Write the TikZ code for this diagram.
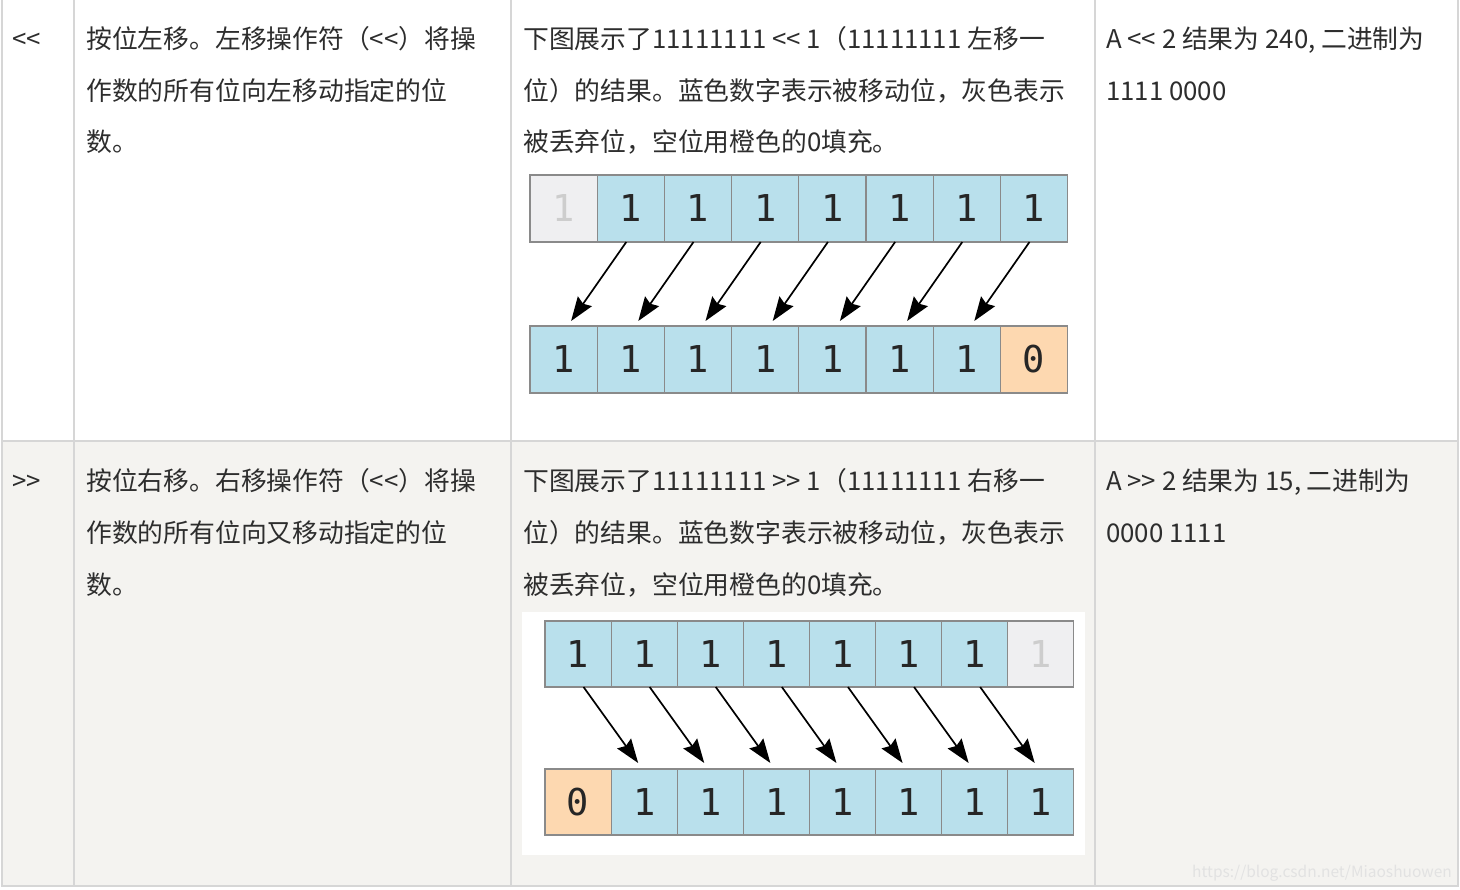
\documentclass[tikz,border=0pt]{standalone}
\usepackage{fontspec}
\setmainfont{Noto Sans CJK SC}[Ligatures=TeXOff]
\newfontfamily\bitfont{DejaVu Sans Mono}
\usetikzlibrary{positioning, calc, arrows.meta}
\definecolor{gridline}{RGB}{214,214,214}
\definecolor{rowshade}{RGB}{244,243,240}
\definecolor{ink}{RGB}{45,45,45}
\definecolor{bitblue}{RGB}{185,224,236}
\definecolor{bitorange}{RGB}{253,216,176}
\definecolor{lostgray}{RGB}{239,239,241}
\definecolor{lostink}{RGB}{205,205,205}
\definecolor{cellborder}{RGB}{138,138,138}
\tikzset{x=1pt, y=1pt, % one unit is one pixel of the table
bit/.style={ % one box of the byte
draw=cellborder, line width=1.2pt,
minimum width=67.2pt, minimum height=67pt,
inner sep=0pt, outer sep=0pt,
font=\bitfont\fontsize{37}{37}\selectfont, text=black!85},
kept/.style={bit, fill=bitblue},
lost/.style={bit, fill=lostgray, text=lostink},
pad/.style={bit, fill=bitorange},
txt/.style={anchor=base west, inner sep=0pt, text=ink,
font=\fontsize{25.8}{30}\selectfont},
bitarrow/.style={-{Stealth[length=24pt,width=17pt,inset=3pt]}, line width=1.7pt}}

\begin{document}
\begin{tikzpicture}
    \useasboundingbox (0,0) rectangle (1460,-890);

    % table
    \fill[rowshade] (2,-441) rectangle (1458,-886);
    \draw[gridline, line width=2pt] (2,-441) -- (1458,-441) (2,-886) -- (1458,-886);
    \foreach \x in {2,74,511,1095,1458}
        \draw[gridline, line width=2pt] (\x,0) -- (\x,-887);

    % row <<
    \node[txt] (op1) at (12,-49) {<<};
    \foreach \t [count=\k] in {按位左移。左移操作符（<<）将操, 作数的所有位向左移动指定的位, 数。}
        \node[txt] (desc1\k) at (86,{-49-51.5*(\k-1)}) {\t};
    \foreach \t [count=\k] in {下图展示了11111111 << 1（11111111 左移一, 位）的结果。蓝色数字表示被移动位，灰色表示, 被丢弃位，空位用橙色的0填充。}
        \node[txt] (pic1\k) at (523,{-49-51.5*(\k-1)}) {\t};
    \foreach \t [count=\k] in {{A << 2 结果为 240, 二进制为}, 1111 0000}
        \node[txt] (ex1\k) at (1106,{-49-51.5*(\k-1)}) {\t};

    \node[lost, anchor=north west] (a0) at (530,-175) {1};
    \foreach \i [count=\j from 0] in {1,...,7}
        \node[kept, right=0pt of a\j] (a\i) {1};
    \node[kept, anchor=north west] (b0) at (530,-326) {1};
    \foreach \i [count=\j from 0] in {1,...,6}
        \node[kept, right=0pt of b\j] (b\i) {1};
    \node[pad, right=0pt of b6] (b7) {0};
    \foreach \i [count=\j from 0] in {1,...,7}
        \draw[bitarrow] ($(a\i.south)+(-4.5,0)$) -- ($(b\j.north)+(7.5,5)$);

    % row >>
    \node[txt] (op2) at (12,-491) {>>};
    \foreach \t [count=\k] in {按位右移。右移操作符（<<）将操, 作数的所有位向又移动指定的位, 数。}
        \node[txt] (desc2\k) at (86,{-491-51.5*(\k-1)}) {\t};
    \foreach \t [count=\k] in {下图展示了11111111 >> 1（11111111 右移一, 位）的结果。蓝色数字表示被移动位，灰色表示, 被丢弃位，空位用橙色的0填充。}
        \node[txt] (pic2\k) at (523,{-491-51.5*(\k-1)}) {\t};
    \foreach \t [count=\k] in {{A >> 2 结果为 15, 二进制为}, 0000 1111}
        \node[txt] (ex2\k) at (1106,{-491-51.5*(\k-1)}) {\t};

    \fill[white] (522,-612) rectangle (1085,-855);
    \node[kept, minimum width=66.1pt, minimum height=66pt, anchor=north west] (c0) at (545,-621) {1};
    \foreach \i [count=\j from 0] in {1,...,6}
        \node[kept, minimum width=66.1pt, minimum height=66pt, right=0pt of c\j] (c\i) {1};
    \node[lost, minimum width=66.1pt, minimum height=66pt, right=0pt of c6] (c7) {1};
    \node[pad, minimum width=66.1pt, minimum height=66pt, anchor=north west] (d0) at (545,-769) {0};
    \foreach \i [count=\j from 0] in {1,...,7}
        \node[kept, minimum width=66.1pt, minimum height=66pt, right=0pt of d\j] (d\i) {1};
    \foreach \i [count=\j from 0] in {1,...,7}
        \draw[bitarrow] ($(c\j.south)+(5.5,0)$) -- ($(d\i.north)+(-6,6)$);

    \node[anchor=base east, inner sep=0pt, text=gridline!70, font=\fontsize{15.5}{18}\selectfont] (mark) at (1452,-877) {https://blog.csdn.net/Miaoshuowen};

\end{tikzpicture}
\end{document}
